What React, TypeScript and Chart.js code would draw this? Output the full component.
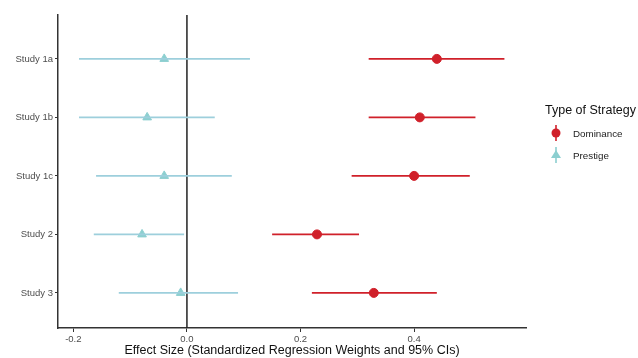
import React, { useEffect, useRef } from "react";
import { Chart, registerables } from "chart.js";

Chart.register(...registerables);

const studies = ["Study 1a", "Study 1b", "Study 1c", "Study 2", "Study 3"];
const domEst = [0.44, 0.41, 0.40, 0.229, 0.329];
const domLo = [0.32, 0.32, 0.29, 0.15, 0.22];
const domHi = [0.559, 0.508, 0.498, 0.303, 0.44];
const preEst = [-0.04, -0.07, -0.04, -0.079, -0.011];
const preLo = [-0.19, -0.19, -0.16, -0.164, -0.12];
const preHi = [0.111, 0.049, 0.079, -0.005, 0.09];
const xTicks = [-0.2, 0.0, 0.2, 0.4];
const seriesNames = ["Dominance", "Prestige"];

const RED = "#d0202a";
const TEAL = "#8ccfd0";
const TEAL_LINE = "#9dcfdc";
const FONT = "'Liberation Sans', Arial, sans-serif";

const X_MIN = -0.227;
const X_MAX = 0.597;
const Y_MIN = 0.4;
const Y_MAX = 5.75;

export default function App() {
  const ref = useRef<HTMLCanvasElement | null>(null);

  useEffect(() => {
    if (!ref.current) return;
    const yOf = (i: number) => studies.length - i;
    const ciSets: any[] = [];
    studies.forEach((_, i) => {
      ciSets.push({
        type: "line",
        data: [
          { x: domLo[i], y: yOf(i) },
          { x: domHi[i], y: yOf(i) },
        ],
        borderColor: RED,
        borderWidth: 1.6,
        pointRadius: 0,
      });
      ciSets.push({
        type: "line",
        data: [
          { x: preLo[i], y: yOf(i) },
          { x: preHi[i], y: yOf(i) },
        ],
        borderColor: TEAL_LINE,
        borderWidth: 1.6,
        pointRadius: 0,
      });
    });
    const chart = new Chart(ref.current, {
      type: "scatter",
      data: {
        datasets: [
          ...ciSets,
          {
            type: "line",
            data: [
              { x: 0, y: Y_MIN },
              { x: 0, y: Y_MAX },
            ],
            borderColor: "#222222",
            borderWidth: 1.5,
            pointRadius: 0,
          },
          {
            label: seriesNames[0],
            data: studies.map((_, i) => ({ x: domEst[i], y: yOf(i) })),
            backgroundColor: RED,
            borderColor: RED,
            pointRadius: 4.5,
            pointStyle: "circle",
          },
          {
            label: seriesNames[1],
            data: studies.map((_, i) => ({ x: preEst[i], y: yOf(i) })),
            backgroundColor: TEAL,
            borderColor: TEAL,
            pointRadius: 5,
            pointStyle: "triangle",
          },
        ] as any,
      },
      options: {
        animation: false,
        responsive: false,
        layout: { padding: { top: 15, right: 112, left: 0, bottom: 0 } },
        plugins: { legend: { display: false }, tooltip: { enabled: false } },
        scales: {
          x: {
            type: "linear",
            min: X_MIN,
            max: X_MAX,
            afterBuildTicks: (s: any) => {
              s.ticks = xTicks.map((v) => ({ value: v }));
            },
            afterFit: (s: any) => {
              s.height = 30;
            },
            border: { color: "#333333", width: 1.5 },
            grid: { drawOnChartArea: false, tickLength: 4, color: "#333333" },
            ticks: {
              color: "#4d4d4d",
              font: { family: FONT, size: 9.5 },
              padding: 2,
              callback: (v: any) => Number(v).toFixed(1),
            },
            title: {
              display: true,
              text: "Effect Size (Standardized Regression Weights and 95% CIs)",
              color: "#111111",
              font: { family: FONT, size: 12.5 },
              padding: { top: 1, bottom: 0 },
            },
          },
          y: {
            type: "linear",
            min: Y_MIN,
            max: Y_MAX,
            afterBuildTicks: (s: any) => {
              s.ticks = studies.map((_, i) => ({ value: studies.length - i }));
            },
            afterFit: (s: any) => {
              s.width = 58;
            },
            border: { color: "#333333", width: 1.5 },
            grid: { drawOnChartArea: false, tickLength: 3, color: "#333333" },
            ticks: {
              color: "#4d4d4d",
              font: { family: FONT, size: 9.5 },
              padding: 2,
              callback: (v: any) => studies[studies.length - Number(v)] ?? "",
            },
          },
        },
      },
    });
    return () => chart.destroy();
  }, []);

  const legendItem = (name: string, color: string, tri: boolean, top: number) => (
    <div
      style={{
        position: "absolute",
        left: 549,
        top,
        height: 20,
        display: "flex",
        alignItems: "center",
      }}
    >
      <svg width="14" height="20" viewBox="0 0 14 20">
        <line x1="7" y1="2" x2="7" y2="18" stroke={color} strokeWidth="1.6" />
        {tri ? (
          <polygon points="7,5 12,13 2,13" fill={color} />
        ) : (
          <circle cx="7" cy="10" r="4.5" fill={color} />
        )}
      </svg>
      <span
        style={{
          marginLeft: 10,
          fontFamily: FONT,
          fontSize: 9.8,
          color: "#222222",
        }}
      >
        {name}
      </span>
    </div>
  );

  return (
    <div
      style={{
        position: "fixed",
        left: 0,
        top: 0,
        width: 638,
        height: 358,
        background: "#ffffff",
      }}
    >
      <canvas ref={ref} width={638} height={358} style={{ display: "block" }} />
      <div
        style={{
          position: "absolute",
          left: 545,
          top: 103,
          fontFamily: FONT,
          fontSize: 12.5,
          color: "#111111",
          whiteSpace: "nowrap",
        }}
      >
        Type of Strategy
      </div>
      {legendItem(seriesNames[0], RED, false, 123)}
      {legendItem(seriesNames[1], TEAL, true, 145)}
    </div>
  );
}
